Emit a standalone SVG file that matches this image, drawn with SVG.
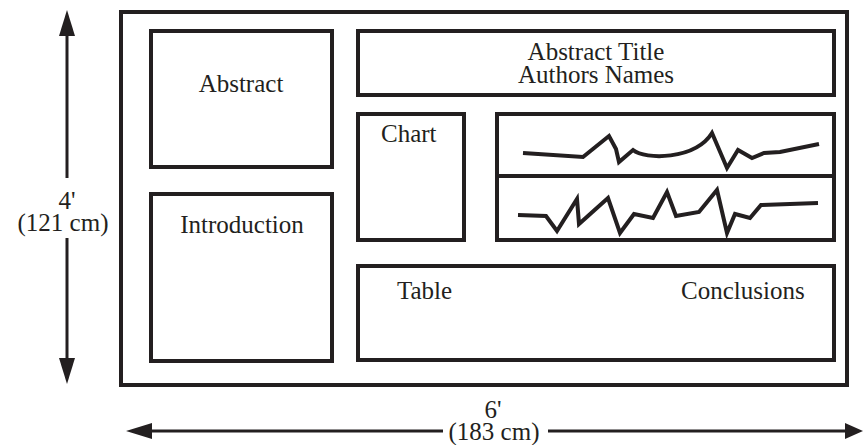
<svg xmlns="http://www.w3.org/2000/svg" width="863" height="445" viewBox="0 0 863 445">
<style>
.box{fill:none;stroke:#231f20;stroke-width:4}
.graph{fill:none;stroke:#231f20;stroke-width:4;stroke-linejoin:miter}
.dim{stroke:#231f20;stroke-width:3;fill:none}
.head{fill:#231f20}
text{font-family:"Liberation Serif","Times New Roman",serif;font-size:25px;fill:#231f20}
.c{text-anchor:middle}
</style>
<rect width="863" height="445" fill="#fff"/>
<g id="poster"><rect class="box" x="121" y="12" width="726" height="373"/></g>
<g id="abstract"><rect class="box" x="151" y="31" width="181" height="136"/><text class="c" x="241" y="92">Abstract</text></g>
<g id="introduction"><rect class="box" x="151" y="194" width="181" height="167"/><text class="c" x="242" y="233">Introduction</text></g>
<g id="title"><rect class="box" x="358" y="31" width="476" height="64"/><text class="c" x="596" y="60">Abstract Title</text><text class="c" x="596" y="83">Authors Names</text></g>
<g id="chart"><rect class="box" x="358" y="114" width="106" height="126"/><text x="381" y="142">Chart</text></g>
<g id="graphs"><rect class="box" x="497" y="114" width="337" height="126"/><line class="box" x1="497" y1="176" x2="834" y2="176"/>
<path class="graph" d="M523,153 L583,157 L609,136 L616,149 L619,162 L633,150 C645,160 695,160 712,133 L727,168 L738,150 L752,158 L764,153 L780,152 L819,144"/>
<path class="graph" d="M518,215 L546,216 L557,231 L577,199 L579,224 L608,198 L620,233 L634,214 L653,218 L667,192 L676,216 L699,212 L717,190 L727,233 L735,214 L750,218 L761,205 L818,203"/></g>
<g id="table"><rect class="box" x="358" y="266" width="476" height="94"/><text x="397" y="299">Table</text><text x="681" y="299">Conclusions</text></g>
<g id="connectors">
<line class="dim" x1="67" y1="34" x2="67" y2="178"/>
<line class="dim" x1="67" y1="238" x2="67" y2="359"/>
<polygon class="head" points="67,10 59,36 75,36"/>
<polygon class="head" points="67,384 59,358 75,358"/>
<line class="dim" x1="150" y1="431" x2="443" y2="431"/>
<line class="dim" x1="548" y1="431" x2="846" y2="431"/>
<polygon class="head" points="126,431 152,423 152,439"/>
<polygon class="head" points="863,431 845,423 845,439"/>
</g>
<g id="labels">
<text class="c" x="67" y="209">4'</text>
<text class="c" x="63" y="231">(121 cm)</text>
<text class="c" x="493" y="418">6'</text>
<text class="c" x="494" y="440">(183 cm)</text>
</g>
</svg>
